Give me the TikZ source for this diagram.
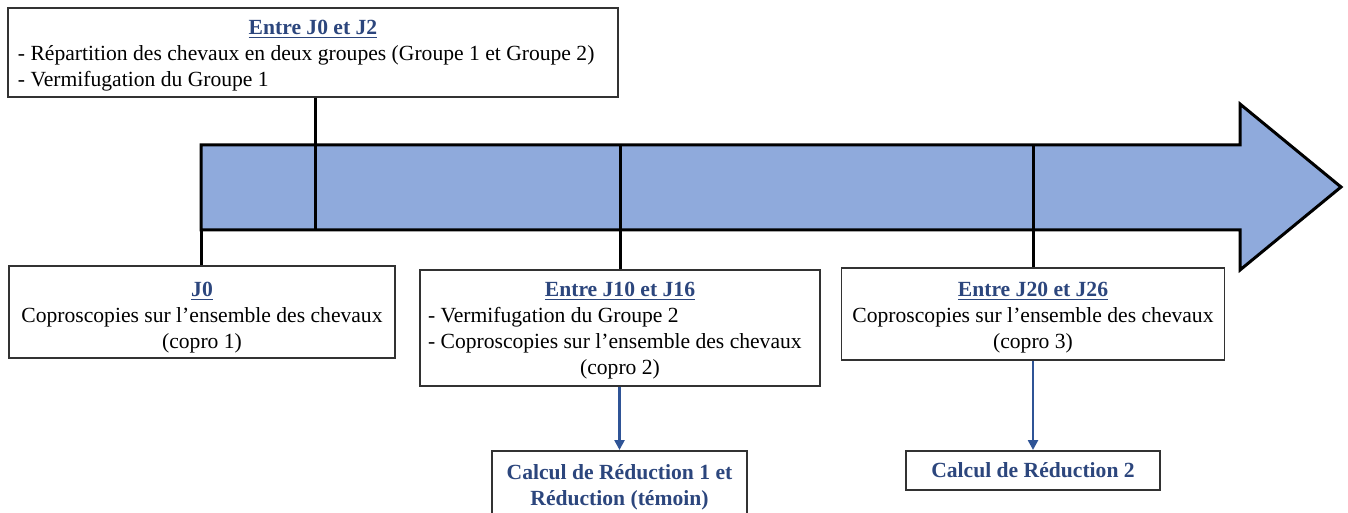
\documentclass[tikz,border=0pt]{standalone}
\usepackage{fontspec}
\setmainfont{Liberation Serif}
\usetikzlibrary{arrows.meta}
\definecolor{shaftblue}{RGB}{143,170,220}
\definecolor{headblue}{RGB}{44,70,125}
\definecolor{arrblue}{RGB}{47,84,150}
\definecolor{boxgray}{RGB}{50,50,50}
\newcommand{\hd}[1]{{\bfseries\color{headblue}\underline{#1}}}
\tikzset{
  infobox/.style={draw=boxgray, line width=0.75pt, fill=white, rectangle, inner ysep=0pt,
    font=\fontsize{10.8}{13}\selectfont\rmfamily, align=flush left},
  calcbox/.style={draw=boxgray, line width=0.75pt, fill=white, rectangle, align=flush center,
    font=\fontsize{10.8}{13}\selectfont\rmfamily\bfseries\color{headblue}},
  tickline/.style={line width=1.5pt, black},
  bluearrow/.style={line width=1.25pt, arrblue, -{Triangle[length=5pt,width=5pt]}}
}
\begin{document}
\begin{tikzpicture}[x=0.5pt,y=-0.5pt]
\useasboundingbox (0,0) rectangle (1348,513);
\clip (0,0) rectangle (1348,513);
% big arrow
\draw[line width=1.5pt, fill=shaftblue, line join=miter]
  (201,145) -- (1240,145) -- (1240,104) -- (1341,187) -- (1240,270) -- (1240,230) -- (201,230) -- cycle;
% boxes
\node[infobox, minimum width=305pt, minimum height=44.5pt, text width=295pt, inner xsep=5pt] (top) at (313,52.5)
  {\centering\rule{0pt}{10.5pt}\hd{Entre J0 et J2}\par\raggedright
   - Répartition des chevaux en deux groupes (Groupe 1 et Groupe 2)\par
   - Vermifugation du Groupe 1\par};
\node[infobox, minimum width=193pt, minimum height=46pt, text width=189pt, inner xsep=2pt, align=flush center] (j0) at (202,312)
  {\rule{0pt}{13pt}\hd{J0}\\Coproscopies sur l’ensemble des chevaux\\(copro 1)};
\node[infobox, minimum width=200pt, minimum height=58pt, text width=192pt, inner xsep=4pt] (j10) at (620,328)
  {\centering\rule{0pt}{10pt}\hd{Entre J10 et J16}\par\raggedright
   - Vermifugation du Groupe 2\par
   - Coproscopies sur l’ensemble des chevaux\par
   \centering (copro 2)\par};
\node[infobox, minimum width=191.5pt, minimum height=46pt, text width=187.5pt, inner xsep=2pt, align=flush center] (j20) at (1033,314)
  {\rule{0pt}{11pt}\hd{Entre J20 et J26}\\Coproscopies sur l’ensemble des chevaux\\(copro 3)};
\node[calcbox, minimum width=127.5pt, minimum height=36.5pt, anchor=north] (c1) at (619.5,450)
  {Calcul de Réduction 1 et\\Réduction (témoin)};
\node[calcbox, minimum width=127pt, minimum height=19.5pt, anchor=north] (c2) at (1033,450)
  {Calcul de Réduction 2};
% connectors to the shaft
\coordinate (s0) at (201,230);
\coordinate (s1) at (315,230);
\coordinate (s2) at (620,145);
\coordinate (s3) at (1033,145);
\draw[tickline] (top.south -| s1) -- (s1);
\draw[tickline] (s0) -- (j0.north -| s0);
\draw[tickline] (s2) -- (j10.north -| s2);
\draw[tickline] (s3) -- (j20.north -| s3);
% blue arrows
\draw[bluearrow] (j10.south -| c1.north) -- (c1.north);
\draw[bluearrow] (j20.south) -- (c2.north);
\end{tikzpicture}
\end{document}
